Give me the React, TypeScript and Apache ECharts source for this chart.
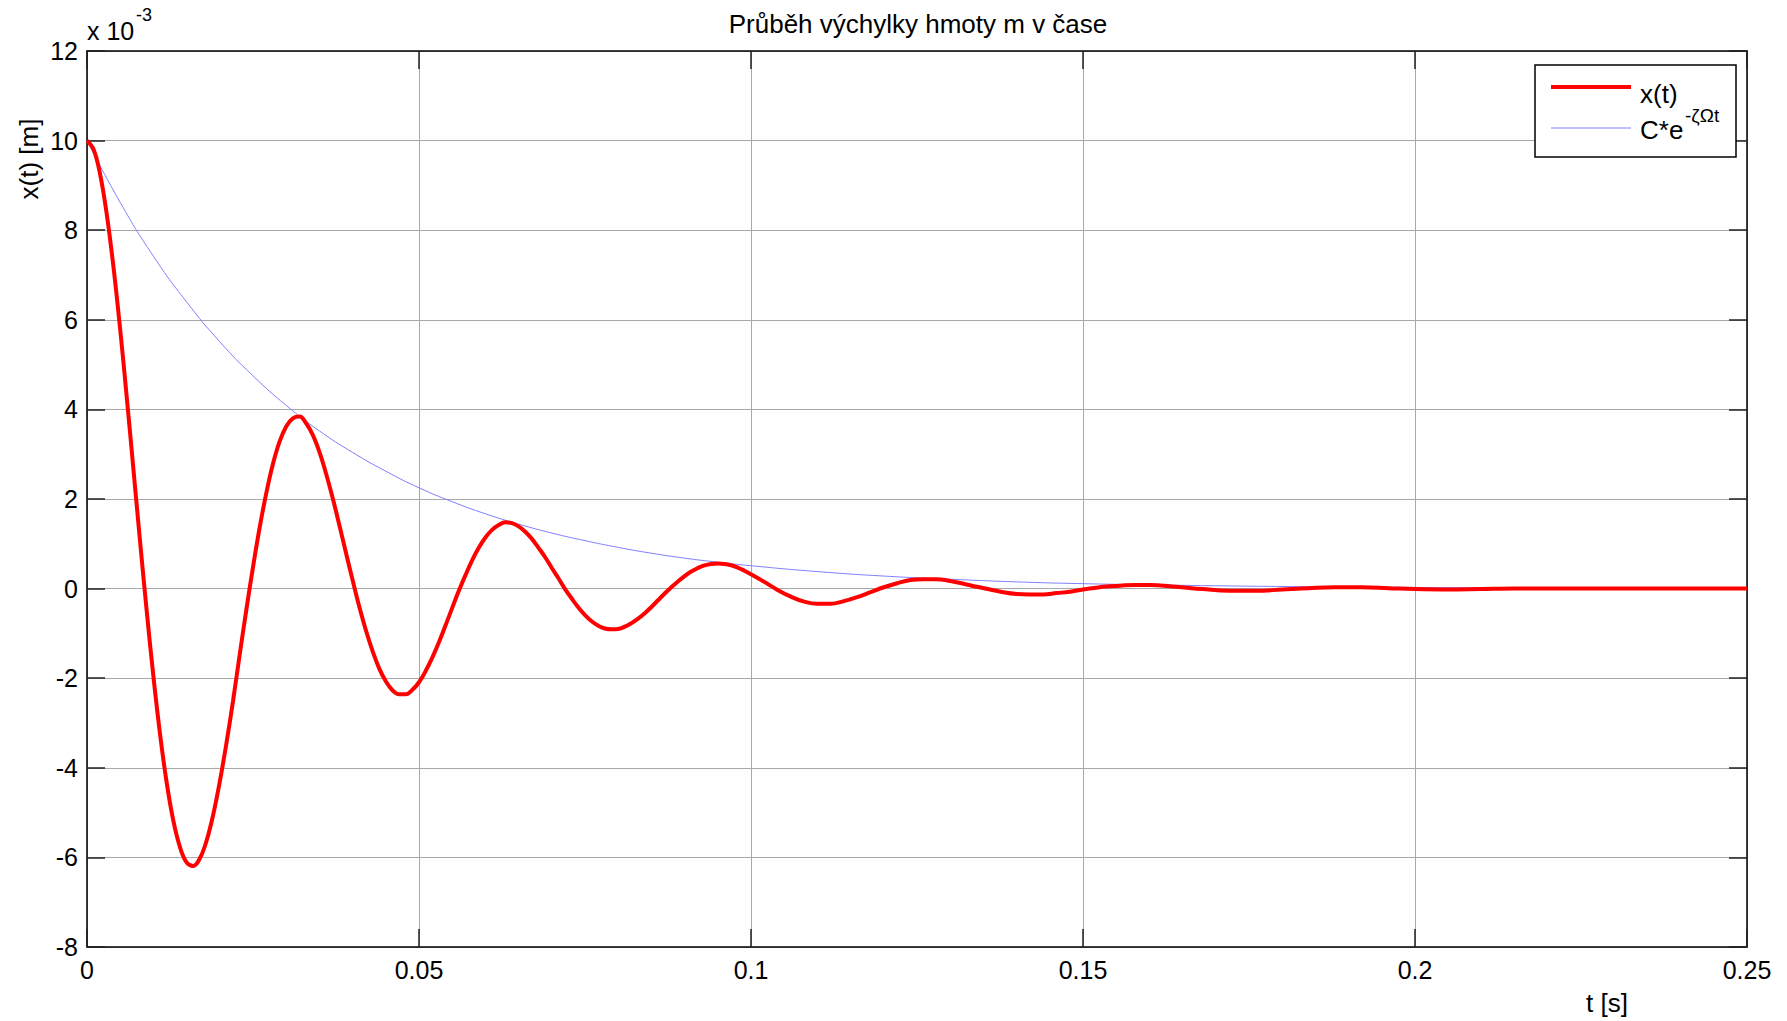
import { useEffect, useRef } from 'react';
import * as echarts from 'echarts';

const TITLE = 'Průběh výchylky hmoty m v čase';
const X_NAME = 't [s]';
const Y_NAME = 'x(t) [m]';
const EXP_BASE = 'x 10';
const EXP_POWER = '-3';
const LEGEND_RESP = 'x(t)';
const LEGEND_ENV_BASE = 'C*e';
const LEGEND_ENV_POWER = '-ζΩt';

const xTicks = [0, 0.05, 0.1, 0.15, 0.2, 0.25];
const xTickLabels = ['0', '0.05', '0.1', '0.15', '0.2', '0.25'];
const yTicks = [-8, -6, -4, -2, 0, 2, 4, 6, 8, 10, 12];

// displacement x(t), in units of 1e-3 m, time in ms
const respTimeMs = [
  0, 1, 2, 3, 4, 5, 6, 7, 8, 9, 10, 11, 12, 13, 14, 15, 16, 17, 18, 19,
  20, 21, 22, 23, 24, 25, 26, 27, 28, 29, 30, 31, 32, 33, 34, 35, 36, 37, 38, 39,
  40, 41, 42, 43, 44, 45, 46, 47, 48, 49, 50, 51, 52, 53, 54, 55, 56, 57, 58, 59,
  60, 61, 62, 63, 64, 65, 66, 67, 68, 69, 70, 71, 72, 73, 74, 75, 76, 77, 78, 79,
  80, 81, 82, 83, 84, 85, 86, 87, 88, 89, 90, 91, 92, 93, 94, 95, 96, 97, 98, 99,
  100, 102, 104, 106, 108, 110, 112, 114, 116, 118, 120, 122, 124, 126, 128, 130,
  132, 134, 136, 138, 140, 142, 144, 146, 148, 150, 152, 154, 156, 158, 160,
  164, 168, 172, 176, 180, 184, 188, 192, 196, 200, 205, 210, 215, 220, 230, 240, 250,
];
const respValues = [
  10.0, 9.8, 9.23, 8.33, 7.16, 5.78, 4.25, 2.65, 1.04, -0.51, -1.96, -3.25, -4.33, -5.18, -5.77, -6.11, -6.19, -6.02, -5.63, -5.05,
  -4.31, -3.45, -2.5, -1.47, -0.47, 0.48, 1.36, 2.13, 2.78, 3.28, 3.62, 3.8, 3.84, 3.69, 3.43, 3.05, 2.57, 2.02, 1.42, 0.8,
  0.19, -0.4, -0.93, -1.39, -1.78, -2.07, -2.27, -2.36, -2.36, -2.26, -2.09, -1.84, -1.54, -1.2, -0.82, -0.43, -0.05, 0.3, 0.63, 0.91,
  1.14, 1.31, 1.42, 1.48, 1.46, 1.39, 1.27, 1.11, 0.91, 0.7, 0.46, 0.23, -0.01, -0.22, -0.42, -0.59, -0.73, -0.83, -0.89, -0.91,
  -0.9, -0.85, -0.77, -0.67, -0.55, -0.41, -0.26, -0.11, 0.03, 0.16, 0.28, 0.38, 0.46, 0.52, 0.55, 0.56, 0.55, 0.52, 0.47, 0.4,
  0.32, 0.15, -0.03, -0.18, -0.29, -0.34, -0.34, -0.28, -0.19, -0.08, 0.03, 0.12, 0.19, 0.21, 0.21, 0.17,
  0.11, 0.04, -0.02, -0.08, -0.12, -0.13, -0.13, -0.1, -0.07, -0.02, 0.02, 0.05, 0.07, 0.08, 0.08,
  0.04, -0.01, -0.05, -0.05, -0.02, 0.01, 0.03, 0.03, 0.01, -0.01, -0.02, -0.01, 0.0, 0.0, 0.0, 0.0, 0.0,
];

// envelope C*e^(-zeta*Omega*t), in units of 1e-3 m, time in ms
const envTimeMs = [
  0, 5, 10, 15, 20, 25, 30, 35, 40, 45, 50, 55, 60, 65, 70, 75, 80, 85, 90, 95,
  100, 110, 120, 130, 140, 150, 160, 170, 180, 190, 200, 210, 220, 230, 240, 250,
];
const envValues = [
  10.0, 8.62, 7.42, 6.4, 5.51, 4.75, 4.09, 3.52, 3.04, 2.62, 2.25, 1.94, 1.67, 1.44, 1.24, 1.07, 0.92, 0.79, 0.68, 0.59,
  0.51, 0.38, 0.28, 0.21, 0.15, 0.11, 0.085, 0.063, 0.047, 0.035, 0.026, 0.019, 0.014, 0.011, 0.008, 0.006,
];

const FONT = '"Liberation Sans", Arial, Helvetica, sans-serif';

export default function App() {
  const ref = useRef<HTMLDivElement>(null);

  useEffect(() => {
    if (!ref.current) return;
    const chart = echarts.init(ref.current, undefined, { renderer: 'svg' });

    const respData = respTimeMs.map((t, i) => [t / 1000, respValues[i]]);
    const envData = envTimeMs.map((t, i) => [t / 1000, envValues[i]]);

    const xMin = xTicks[0];
    const xMax = xTicks[xTicks.length - 1];
    const xInt = xTicks[1] - xTicks[0];
    const yMin = yTicks[0];
    const yMax = yTicks[yTicks.length - 1];
    const yInt = yTicks[1] - yTicks[0];

    const xLabel = (v: number) => {
      const idx = xTicks.findIndex((t) => Math.abs(t - v) < 1e-9);
      return idx >= 0 ? xTickLabels[idx] : '';
    };

    const tickStyle = { inside: true, length: 18, lineStyle: { color: '#222', width: 1.5 } };
    const frameLine = { show: true, onZero: false, lineStyle: { color: '#000', width: 1.5 } };

    const option: any = {
      animation: false,
      backgroundColor: '#fff',
      textStyle: { fontFamily: FONT },
      title: {
        text: TITLE,
        left: 913,
        top: 6,
        textAlign: 'center',
        textStyle: { fontFamily: FONT, fontSize: 26, fontWeight: 'normal', color: '#000' },
      },
      grid: { left: 87, right: 40, top: 51, bottom: 74, containLabel: false },
      xAxis: [
        {
          type: 'value', min: xMin, max: xMax, interval: xInt, position: 'bottom',
          axisLine: frameLine,
          axisTick: tickStyle,
          axisLabel: { formatter: xLabel, fontSize: 25, color: '#000', margin: 10, fontFamily: FONT },
          splitLine: { show: true, lineStyle: { color: '#a8a8a8', width: 1 } },
        },
        {
          type: 'value', min: xMin, max: xMax, interval: xInt, position: 'top',
          axisLine: frameLine, axisTick: tickStyle,
          axisLabel: { show: false }, splitLine: { show: false },
        },
      ],
      yAxis: [
        {
          type: 'value', min: yMin, max: yMax, interval: yInt, position: 'left',
          axisLine: frameLine, axisTick: tickStyle,
          axisLabel: { fontSize: 25, color: '#000', margin: 9, fontFamily: FONT },
          splitLine: { show: true, lineStyle: { color: '#a8a8a8', width: 1 } },
        },
        {
          type: 'value', min: yMin, max: yMax, interval: yInt, position: 'right',
          axisLine: frameLine, axisTick: tickStyle,
          axisLabel: { show: false }, splitLine: { show: false },
        },
      ],
      series: [
        {
          name: LEGEND_ENV_BASE + LEGEND_ENV_POWER,
          type: 'line', data: envData, smooth: true, showSymbol: false,
          lineStyle: { color: '#8080ff', width: 1 }, z: 3,
        },
        {
          name: LEGEND_RESP,
          type: 'line', data: respData, smooth: 0.4, showSymbol: false,
          lineStyle: { color: '#ff0000', width: 4 }, z: 4,
        },
      ],
      graphic: [
        {
          type: 'text', x: 87, y: 31, z: 100,
          style: { text: EXP_BASE, fontSize: 25, fontFamily: FONT, fill: '#000', align: 'left', verticalAlign: 'middle' },
        },
        {
          type: 'text', x: 136, y: 15, z: 100,
          style: { text: EXP_POWER, fontSize: 18, fontFamily: FONT, fill: '#000', align: 'left', verticalAlign: 'middle' },
        },
        {
          type: 'text', x: 29, y: 159, rotation: Math.PI / 2, z: 100,
          style: { text: Y_NAME, fontSize: 26, fontFamily: FONT, fill: '#000', align: 'center', verticalAlign: 'middle' },
        },
        {
          type: 'text', x: 1607, y: 1003, z: 100,
          style: { text: X_NAME, fontSize: 26, fontFamily: FONT, fill: '#000', align: 'center', verticalAlign: 'middle' },
        },
        {
          type: 'rect', z: 100,
          shape: { x: 1535, y: 65, width: 201, height: 92 },
          style: { fill: '#fff', stroke: '#000', lineWidth: 1.5 },
        },
        {
          type: 'line', z: 101,
          shape: { x1: 1551, y1: 87, x2: 1631, y2: 87 },
          style: { stroke: '#ff0000', lineWidth: 4 },
        },
        {
          type: 'line', z: 101,
          shape: { x1: 1551, y1: 128, x2: 1631, y2: 128 },
          style: { stroke: '#8080ff', lineWidth: 1 },
        },
        {
          type: 'text', x: 1640, y: 94, z: 101,
          style: { text: LEGEND_RESP, fontSize: 26, fontFamily: FONT, fill: '#000', align: 'left', verticalAlign: 'middle' },
        },
        {
          type: 'text', x: 1640, y: 130, z: 101,
          style: { text: LEGEND_ENV_BASE, fontSize: 26, fontFamily: FONT, fill: '#000', align: 'left', verticalAlign: 'middle' },
        },
        {
          type: 'text', x: 1685, y: 115, z: 101,
          style: { text: LEGEND_ENV_POWER, fontSize: 19, fontFamily: FONT, fill: '#000', align: 'left', verticalAlign: 'middle' },
        },
      ],
    };

    chart.setOption(option);
    return () => chart.dispose();
  }, []);

  return (
    <div
      ref={ref}
      style={{ position: 'fixed', left: 0, top: 0, width: 1787, height: 1021, background: '#fff' }}
    />
  );
}
